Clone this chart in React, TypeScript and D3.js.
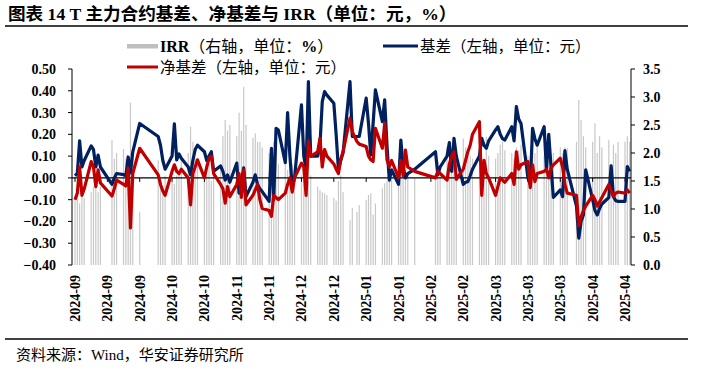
import React from "react";
import * as d3 from "d3";

const W = 707;
const H = 369;

// trading days per month
const daysSep24 = [2,3,4,5,6,9,10,11,12,13,18,19,20,23,24,25,26,27,30];
const daysOct24 = [8,9,10,11,14,15,16,17,18,21,22,23,24,25,28,29,30,31];
const daysNov24 = [1,4,5,6,7,8,11,12,13,14,15,18,19,20,21,22,25,26,27,28,29];
const daysDec24 = [2,3,4,5,6,9,10,11,12,13,16,17,18,19,20,23,24,25,26,27,30,31];
const daysJan25 = [2,3,6,7,8,9,10,13,14,15,16,17,20,21,22,23,24,27];
const daysFeb25 = [5,6,7,10,11,12,13,14,17,18,19,20,21,24,25,26,27,28];
const daysMar25 = [3,4,5,6,7,10,11,12,13,14,17,18,19,20,21,24,25,26,27,28,31];
const daysApr25 = [1,2,3,7,8,9,10,11,14,15,16,17,18,21,22,23,24,25,28,29,30];

const monthDays: [number, number, number[]][] = [
  [2024, 9, daysSep24], [2024, 10, daysOct24], [2024, 11, daysNov24], [2024, 12, daysDec24],
  [2025, 1, daysJan25], [2025, 2, daysFeb25], [2025, 3, daysMar25], [2025, 4, daysApr25],
];

// 基差 (左轴, 元)
const basis = [
  0.01, 0.02, 0.17, 0.05, 0.08, 0.147, 0.13, 0.05, 0.105, 0.05, -0.03, 0.0, 0.02, 0.015, 0.01, 0.096, 0.023, 0.12, 0.25,
  0.19, 0.15, 0.08, 0.04, 0.10, 0.248, 0.083, 0.11, 0.09, 0.05, 0.014, 0.08, 0.13, 0.15, 0.12, 0.08, 0.10, 0.12,
  0.03, 0.055, 0.03, -0.01, 0.014, -0.02, 0.068, -0.07, -0.02, 0.046, -0.086, -0.02, 0.014, -0.03, -0.05, -0.063, -0.108, 0.136, -0.1, 0.228, 0.22,
  0.07, 0.30, 0.10, -0.04, 0.0, 0.335, 0.10, 0.04, 0.442, 0.10, 0.10, 0.15, 0.35, 0.396, 0.38, 0.343, 0.20, 0.037, 0.08, 0.115, 0.442, 0.19,
  0.19, 0.19, 0.366, 0.25, 0.105, 0.25, 0.404, 0.258, 0.358, 0.15, -0.01, 0.037, -0.03, 0.174, 0.05, 0.0, 0.02, 0.04,
  0.12, 0.014, 0.05, 0.10, 0.162, 0.03, 0.182, 0.10, -0.03, -0.02, -0.017, 0.01, 0.04, 0.10, 0.182, 0.15, 0.136, 0.17,
  0.22, 0.235, 0.20, 0.18, 0.174, 0.235, 0.17, 0.327, 0.27, 0.25, 0.0, -0.03, 0.228, 0.18, 0.15, 0.235, 0.04, 0.2, 0.05, -0.09, -0.055,
  -0.086, 0.125, 0.04, -0.13, -0.277, -0.2, -0.17, 0.037, -0.10, -0.15, -0.17, -0.14, -0.12, -0.09, 0.055, -0.086, -0.105, -0.108, -0.108, 0.052, 0.03,
];

// 净基差 (左轴, 元)
const netBasis = [
  -0.10, -0.07, 0.05, -0.08, -0.05, 0.075, 0.05, -0.04, 0.037, -0.023, -0.083, -0.05, -0.01, -0.03, -0.037, 0.045, -0.23, 0.02, 0.136,
  0.014, -0.03, -0.06, -0.08, 0.03, 0.06, 0.03, 0.02, 0.04, 0.0, -0.124, 0.02, 0.05, 0.083, 0.0, 0.05, 0.09, 0.10,
  0.02, -0.03, -0.05, -0.116, -0.04, -0.086, -0.03, 0.02, -0.09, 0.037, -0.124, -0.08, -0.055, -0.03, -0.1, -0.14, -0.15, -0.177, -0.08, -0.09, -0.1,
  -0.07, -0.03, 0.0, -0.065, 0.0, 0.068, 0.05, -0.08, 0.167, 0.099, 0.12, 0.182, 0.05, 0.13, 0.10, 0.064, 0.04, 0.02, 0.087, 0.12, 0.274, 0.212,
  0.167, 0.155, 0.144, 0.10, 0.083, 0.075, 0.228, 0.136, 0.25, 0.083, 0.05, 0.08, 0.0, 0.08, 0.01, 0.128, 0.05, 0.03,
  0.0, 0.03, 0.02, -0.01, 0.064, 0.10, 0.12, -0.007, 0.04, 0.08, 0.12, 0.15, 0.20, 0.258, -0.08, 0.08, 0.02, 0.0,
  -0.08, -0.04, 0.0, -0.01, -0.02, 0.02, -0.03, 0.12, 0.04, 0.06, 0.075, -0.045, 0.06, -0.017, 0.02, 0.03, 0.04, 0.0, 0.045, 0.06, 0.09,
  0.05, -0.03, -0.07, -0.08, -0.22, -0.18, -0.15, -0.13, -0.08, -0.10, -0.13, -0.11, -0.09, -0.03, -0.06, -0.086, -0.07, -0.065, -0.07, -0.055, -0.07,
];

// IRR (右轴, %)
const irr = [
  1.2, 1.3, 1.1, 1.4, 1.2, 1.3, 1.4, 1.5, 1.3, 1.4, 2.23, 1.9, 2.0, 2.07, 1.9, 1.8, 2.9, 1.9, 0.95,
  1.87, 1.5, 1.4, 1.6, 1.5, 1.45, 1.6, 1.7, 1.9, 2.0, 2.47, 2.2, 1.9, 1.85, 1.5, 1.6, 1.8, 1.5,
  1.6, 1.8, 2.3, 2.59, 2.4, 2.5, 2.3, 2.72, 2.4, 3.18, 2.5, 2.27, 2.35, 2.2, 2.2, 2.1, 2.0, 1.9, 2.2, 2.0, 1.8,
  1.8, 1.7, 1.9, 1.8, 1.7, 1.6, 1.8, 1.7, 1.5, 1.6, 1.4, 1.34, 1.3, 1.28, 1.25, 1.2, 1.15, 1.5, 1.6, 1.3, 0.8, 1.02,
  0.95, 1.07, 1.16, 1.25, 1.28, 0.9, 1.1, 1.37, 1.46, 1.5, 1.8, 1.6, 1.875, 1.7, 1.75, 1.7, 1.6, 1.55,
  1.56, 1.85, 1.7, 2.11, 1.75, 1.9, 1.85, 2.0, 2.26, 2.1, 2.05, 1.95, 1.9, 1.92, 1.85, 1.8, 2.29, 1.95,
  1.9, 2.0, 2.15, 2.2, 2.05, 2.0, 1.9, 2.1, 2.05, 2.15, 1.95, 1.9, 2.1, 2.0, 2.2, 1.95, 2.0, 1.9, 1.85, 2.0, 2.1,
  2.0, 2.1, 2.09, 2.2, 2.95, 2.59, 2.3, 2.1, 2.2, 2.53, 2.0, 2.3, 2.1, 2.23, 1.8, 2.15, 2.0, 2.2, 2.2, 2.3, 2.2,
];

const tickDates = [
  "2024-09-02", "2024-09-16", "2024-09-30", "2024-10-14", "2024-10-28", "2024-11-11",
  "2024-11-25", "2024-12-09", "2024-12-23", "2025-01-06", "2025-01-20", "2025-02-03",
  "2025-02-17", "2025-03-03", "2025-03-17", "2025-03-31", "2025-04-14", "2025-04-28",
];
const leftTicks = [-0.4, -0.3, -0.2, -0.1, 0, 0.1, 0.2, 0.3, 0.4, 0.5];
const rightTicks = [0, 0.5, 1, 1.5, 2, 2.5, 3, 3.5];

const SERIF = "'Liberation Serif', 'Times New Roman', 'Noto Sans CJK SC', serif";
const CJK = "'Liberation Serif', 'Noto Sans CJK SC', serif";

export default function App() {
  const dates: Date[] = [];
  monthDays.forEach(([y, m, ds]) => ds.forEach((d) => dates.push(new Date(y, m - 1, d))));

  const left = 72, right = 631, top = 69, bottom = 265;
  const x = d3.scaleTime()
    .domain([new Date(2024, 8, 2), new Date(2025, 3, 28)])
    .range([75, 625]);
  const yL = d3.scaleLinear().domain([-0.4, 0.5]).range([bottom, top]);
  const yR = d3.scaleLinear().domain([0, 3.5]).range([bottom, top]);

  const lineGen = d3.line<number>()
    .x((_, i) => x(dates[i]))
    .y((v) => yL(v))
    .curve(d3.curveLinear);

  const fmtL = d3.format(".2f");
  const fmtR = d3.format(".1f");
  const fmtX = d3.timeFormat("%Y-%m");
  const parse = d3.timeParse("%Y-%m-%d");

  return (
    <svg width={W} height={H} style={{ position: "absolute", left: 0, top: 0, background: "#fff" }}>
      {/* Title */}
      <text x={8} y={20} fontFamily={CJK} fontSize={17.6} fontWeight="bold" fill="#000">
        图表 14 T 主力合约基差、净基差与 IRR（单位：元，%）
      </text>
      <line x1={5} x2={688} y1={26} y2={26} stroke="#000" strokeWidth={1.5} />

      {/* IRR bars */}
      {irr.map((v, i) => (
        <rect key={i} x={x(dates[i]) - 0.6} width={1.2} y={yR(v)} height={yR(0) - yR(v)} fill="#c8c8c8" />
      ))}

      {/* zero line (x axis) */}
      <line x1={left} x2={right} y1={yL(0)} y2={yL(0)} stroke="#000" strokeWidth={1.2} />
      {tickDates.map((t, i) => (
        <line key={i} x1={x(parse(t)!)} x2={x(parse(t)!)} y1={yL(0)} y2={yL(0) + 4} stroke="#000" strokeWidth={1} />
      ))}

      {/* lines */}
      <path d={lineGen(basis) || ""} fill="none" stroke="#002060" strokeWidth={3.2} strokeLinejoin="round" />
      <path d={lineGen(netBasis) || ""} fill="none" stroke="#c00000" strokeWidth={3.2} strokeLinejoin="round" />

      {/* left axis */}
      <line x1={left} x2={left} y1={top} y2={bottom} stroke="#000" strokeWidth={1} />
      {leftTicks.map((t, i) => (
        <g key={i}>
          <line x1={left - 4} x2={left} y1={yL(t)} y2={yL(t)} stroke="#000" strokeWidth={1} />
          <text x={56} y={yL(t) + 5} textAnchor="end" fontFamily={SERIF} fontWeight="bold" fontSize={14} fill="#000">
            {fmtL(t)}
          </text>
        </g>
      ))}

      {/* right axis */}
      <line x1={right} x2={right} y1={top} y2={bottom} stroke="#000" strokeWidth={1} />
      {rightTicks.map((t, i) => (
        <g key={i}>
          <line x1={right} x2={right + 4} y1={yR(t)} y2={yR(t)} stroke="#000" strokeWidth={1} />
          <text x={643} y={yR(t) + 5} textAnchor="start" fontFamily={SERIF} fontWeight="bold" fontSize={14} fill="#000">
            {fmtR(t)}
          </text>
        </g>
      ))}

      {/* x labels */}
      {tickDates.map((t, i) => {
        const px = x(parse(t)!);
        return (
          <text key={i} transform={`translate(${px + 5},275) rotate(-90)`} textAnchor="end"
            fontFamily={SERIF} fontWeight="bold" fontSize={14} fill="#000">
            {fmtX(parse(t)!)}
          </text>
        );
      })}

      {/* legend */}
      <rect x={127} y={44} width={31} height={4.5} fill="#bfbfbf" />
      <text x={160} y={51.5} fontFamily={CJK} fontSize={16} fill="#000">
        <tspan fontWeight="bold">IRR</tspan>（右轴，单位：<tspan fontWeight="bold">%</tspan>）
      </text>
      <line x1={383} x2={418} y1={46} y2={46} stroke="#002060" strokeWidth={3} />
      <text x={420} y={51.5} fontFamily={CJK} fontSize={15.5} fill="#000">基差（左轴，单位：元）</text>
      <line x1={127} x2={158} y1={67} y2={67} stroke="#c00000" strokeWidth={3} />
      <text x={160} y={72.5} fontFamily={CJK} fontSize={15.5} fill="#000">净基差（左轴，单位：元）</text>

      {/* source */}
      <line x1={5} x2={688} y1={339} y2={339} stroke="#000" strokeWidth={1.5} />
      <text x={16} y={360} fontFamily={CJK} fontSize={15} fill="#000">资料来源：Wind，华安证券研究所</text>
    </svg>
  );
}
